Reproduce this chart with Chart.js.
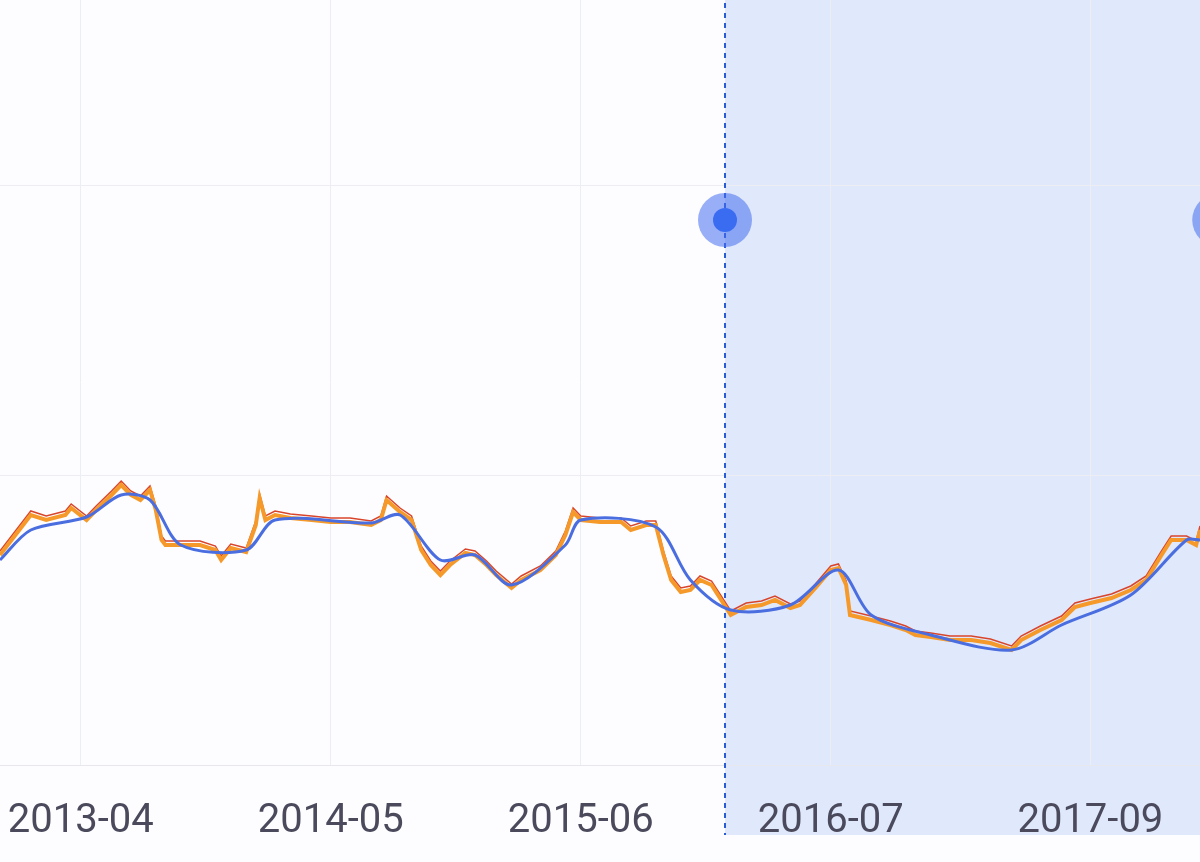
<!DOCTYPE html>
<html>
<head>
<meta charset="utf-8">
<script src="https://cdn.jsdelivr.net/npm/chart.js@4"></script>
<style>
  html, body { margin: 0; padding: 0; background: #fdfdff; overflow: hidden; }
  #wrap { width: 1254px; height: 918px; margin-left: -27px; margin-top: -27px; }
</style>
</head>
<body>
<div id="wrap"><canvas id="c"></canvas></div>
<script>
// months since 2013-04
const priceX = [-4.2,-3.6,-2.8,-2.6,-1.8,-0.8,-0.5,0.3,0.8,1.6,2.1,2.6,3.1,3.6,3.9,4.2,4.4,5.2,6.2,7.0,7.3,7.8,8.6,9.1,9.3,9.6,10.1,10.9,12.0,13.0,14.0,15.1,15.6,15.9,16.6,17.2,17.7,18.2,18.7,19.2,20.0,20.5,21.1,21.6,22.4,22.9,23.9,24.7,25.2,25.6,26.0,27.0,28.1,28.6,29.4,29.9,30.3,30.7,31.2,31.7,32.2,32.8,33.3,33.8,34.6,35.4,36.1,36.9,37.4,38.2,39.0,39.4,39.8,40.0,41.1,42.1,42.9,43.4,44.2,45.2,46.3,47.3,48.4,48.9,49.9,51.0,51.7,52.5,53.6,54.6,55.4,56.2,56.7,57.5,58.0,58.2];
const priceY = [21.0,22.5,24.5,25.0,24.5,25.0,25.7,24.5,25.5,27.0,28.0,27.0,26.5,27.5,25.5,22.5,22.0,22.0,22.0,21.5,20.5,21.7,21.3,24.0,26.7,24.5,25.0,24.7,24.5,24.3,24.3,24.0,24.5,26.5,25.3,24.5,21.5,20.0,19.0,20.0,21.2,21.0,20.0,19.0,17.7,18.5,19.5,21.0,23.0,25.3,24.5,24.3,24.3,23.5,24.0,24.0,21.0,18.5,17.3,17.5,18.5,18.0,16.5,15.0,15.8,16.0,16.5,15.7,16.0,17.7,19.5,19.7,18.0,15.0,14.5,14.0,13.5,13.0,12.8,12.5,12.5,12.2,11.5,12.5,13.5,14.5,15.8,16.2,16.7,17.5,18.5,21.0,22.5,22.5,22.0,23.5];
const maX = [-4.2,-2.6,0.3,2.1,3.6,5.2,8.6,10.1,15.1,16.6,18.7,20.5,22.4,25.2,26.0,29.9,31.7,33.8,36.9,39.4,41.1,44.2,48.4,51.0,54.6,57.5,58.2];
const maY = [20.5,23.5,24.8,27.0,26.5,22.0,21.5,24.5,24.2,25.0,20.5,21.0,18.0,22.0,24.5,23.8,18.5,15.5,16.0,19.5,15.0,13.0,11.5,14.0,17.0,22.5,22.5];
const tickMonths = [0, 13, 26, 39, 52.5];
const tickLabels = ['2013-04', '2014-05', '2015-06', '2016-07', '2017-09'];
const markX = [33.5, 59.2];
const markY = [54.5, 54.5];

const toPts = (xs, ys) => xs.map((x, i) => ({ x: x, y: ys[i] }));

const shade = {
  id: 'shade',
  beforeDraw(chart) {
    const ctx = chart.ctx;
    const px = chart.scales.x.getPixelForValue(markX[0]);
    const bottom = chart.chartArea.bottom + 70;
    ctx.save();
    ctx.fillStyle = '#e0e8fb';
    ctx.fillRect(px, 0, chart.width - px, bottom);
    ctx.restore();
  },
  beforeDatasetsDraw(chart) {
    const ctx = chart.ctx;
    const px = chart.scales.x.getPixelForValue(markX[0]);
    const bottom = chart.chartArea.bottom + 70;
    ctx.save();
    ctx.strokeStyle = '#2a5bd7';
    ctx.lineWidth = 2;
    ctx.setLineDash([5, 5]);
    ctx.beginPath();
    ctx.moveTo(px, 0);
    ctx.lineTo(px, bottom);
    ctx.stroke();
    ctx.restore();
  }
};

new Chart(document.getElementById('c'), {
  type: 'scatter',
  data: {
    datasets: [
      { data: toPts(markX, markY), pointRadius: 27, pointBackgroundColor: 'rgba(70,110,240,0.55)', pointBorderWidth: 0, showLine: false, clip: false, order: 0 },
      { data: toPts(markX, markY), pointRadius: 12, pointBackgroundColor: '#3a6cf2', pointBorderWidth: 0, showLine: false, clip: false, order: -1 },
      { data: toPts(maX, maY), showLine: true, borderColor: '#4a6ee0', borderWidth: 3, pointRadius: 0, tension: 0.3, order: 1 },
      { data: toPts(priceX, priceY), showLine: true, borderColor: '#f59a2a', borderWidth: 4, pointRadius: 0, order: 2 },
      { data: toPts(priceX, priceY.map(v => v + 0.4)), showLine: true, borderColor: '#d9452b', borderWidth: 1.5, pointRadius: 0, order: 3 }
    ]
  },
  options: {
    responsive: true,
    maintainAspectRatio: false,
    animation: false,
    layout: { padding: { left: 0, right: 0, top: 0, bottom: 12 } },
    plugins: { legend: { display: false }, tooltip: { enabled: false } },
    scales: {
      x: {
        type: 'linear', min: -4.2, max: 58.2,
        afterBuildTicks: (ax) => { ax.ticks = tickMonths.map(v => ({ value: v })); },
        ticks: {
          padding: 33, maxRotation: 0, autoSkip: false,
          color: '#4a4a5c', font: { family: 'Roboto', size: 40 },
          callback: (v) => tickLabels[tickMonths.indexOf(v)]
        },
        grid: { color: '#eceef3', drawTicks: false },
        border: { display: true, color: '#e6e8ee' }
      },
      y: {
        min: 0, max: 76.5,
        afterBuildTicks: (ax) => { ax.ticks = [0, 29, 58].map(v => ({ value: v })); },
        ticks: { display: false },
        grid: { color: '#eceef3', drawTicks: false },
        border: { display: false }
      }
    }
  },
  plugins: [shade]
});
</script>
</body>
</html>
